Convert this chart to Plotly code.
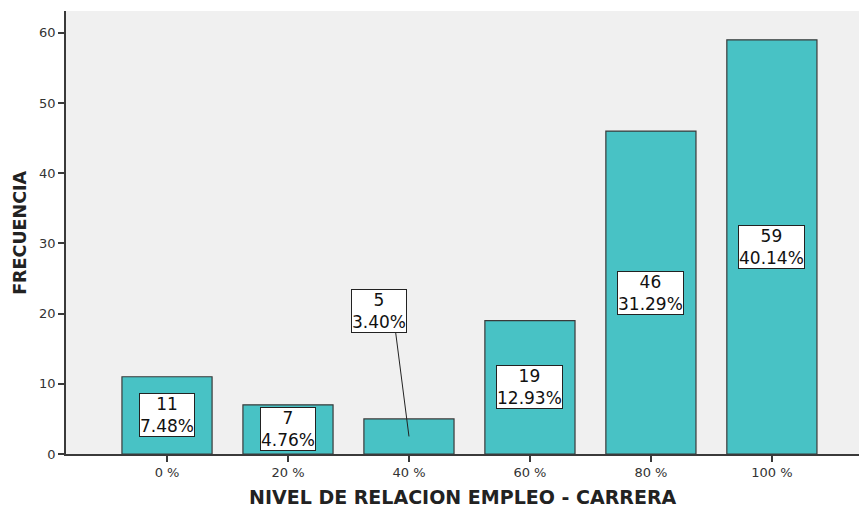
import plotly.graph_objects as go

# data
categories = ["0 %", "20 %", "40 %", "60 %", "80 %", "100 %"]
frequencies = [11, 7, 5, 19, 46, 59]
percentages = ["7.48%", "4.76%", "3.40%", "12.93%", "31.29%", "40.14%"]

BAR_COLOR = "#48C2C5"
BG_COLOR = "#F0F0F0"
LINE_COLOR = "#3A3A3A"
FONT = "DejaVu Sans, Arial, sans-serif"

# the small bar's label sits above it with a leader line (offset in category / value units)
callout = {2: dict(dx=-0.25, y=20.4, tail_dx=-0.11, tail_y=17.3)}

x_idx = list(range(len(categories)))

fig = go.Figure()
fig.add_trace(go.Bar(
    x=x_idx, y=frequencies,
    marker=dict(color=BAR_COLOR, line=dict(color=LINE_COLOR, width=1.2)),
    width=0.745,
    hoverinfo="skip",
))

annotations = []
shapes = []
for i, (f, p) in enumerate(zip(frequencies, percentages)):
    label = f"{f}<br>{p}"
    box = dict(
        text=label, xref="x", yref="y", showarrow=False,
        font=dict(family=FONT, size=17, color="#111"),
        bgcolor="white", bordercolor="#222", borderwidth=1, borderpad=0,
    )
    if i in callout:
        c = callout[i]
        annotations.append(dict(box, x=i + c["dx"], y=c["y"]))
        shapes.append(dict(
            type="line", xref="x", yref="y",
            x0=i, y0=f / 2, x1=i + c["tail_dx"], y1=c["tail_y"],
            line=dict(color="#222", width=1),
        ))
    else:
        annotations.append(dict(box, x=i, y=f / 2))

# axis titles placed by hand so the margins stay fixed
annotations.append(dict(
    text="<b>NIVEL DE RELACION EMPLEO - CARRERA</b>",
    xref="paper", yref="paper", x=0.5, y=0, yanchor="middle", yshift=-43,
    showarrow=False, font=dict(family=FONT, size=19, color="#222"),
))
annotations.append(dict(
    text="<b>FRECUENCIA</b>", textangle=-90,
    xref="paper", yref="y", x=0, y=31.5, xanchor="center", xshift=-46,
    showarrow=False, font=dict(family=FONT, size=17.5, color="#222"),
))

fig.update_layout(
    width=859, height=510,
    margin=dict(l=66, r=0, t=11, b=56),
    paper_bgcolor="white",
    plot_bgcolor=BG_COLOR,
    showlegend=False,
    font=dict(family=FONT, color="#333"),
    annotations=annotations,
    shapes=shapes,
    xaxis=dict(
        tickmode="array", tickvals=x_idx, ticktext=categories,
        range=[-0.835, 5.72], automargin=False,
        showgrid=False, zeroline=False,
        showline=True, linecolor=LINE_COLOR, linewidth=1.5,
        ticks="outside", ticklen=6, tickcolor=LINE_COLOR, tickwidth=1.5,
        tickfont=dict(size=13, color="#333"),
    ),
    yaxis=dict(
        range=[0, 63.1], automargin=False,
        tickvals=[0, 10, 20, 30, 40, 50, 60],
        showgrid=False, zeroline=False,
        showline=True, linecolor=LINE_COLOR, linewidth=1.5,
        ticks="outside", ticklen=6, tickcolor=LINE_COLOR, tickwidth=1.5,
        tickfont=dict(size=13, color="#333"),
    ),
)

# drop the default page margin so the figure sits at the window's corner
fig.write_html("out.html", config={"displayModeBar": False},
               post_script="document.body.style.margin='0';")
